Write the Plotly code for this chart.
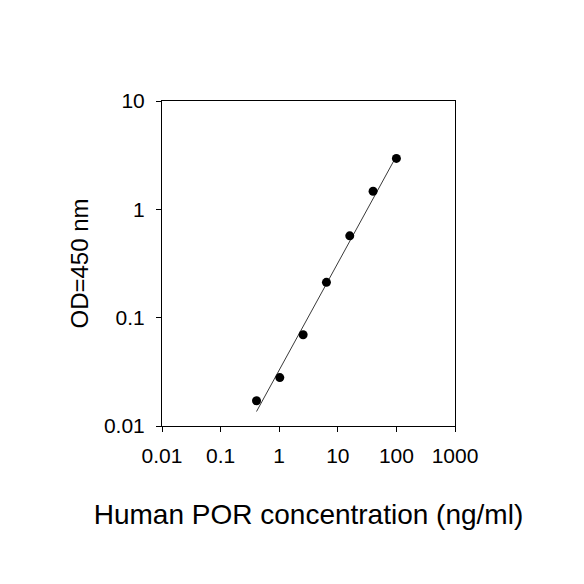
import plotly.graph_objs as go

# standard curve points
conc = [0.41, 1.024, 2.56, 6.4, 16, 40, 100]
od = [0.0171, 0.028, 0.0695, 0.212, 0.569, 1.47, 2.95]

# fitted line end points
fit_conc = [0.41, 100]
fit_od = [0.0136, 3.1]

x_ticks = [0.01, 0.1, 1, 10, 100, 1000]
x_ticktext = ["0.01", "0.1", "1", "10", "100", "1000"]
y_ticks = [0.01, 0.1, 1, 10]
y_ticktext = ["0.01", "0.1", "1", "10"]

font_name = "Arial, Liberation Sans, sans-serif"

trace_fit = go.Scatter(x=fit_conc, y=fit_od, mode='lines',
                       line=dict(color='#3a3a3a', width=1), showlegend=False)
trace_pts = go.Scatter(x=conc, y=od, mode='markers',
                       marker=dict(color='black', size=9), showlegend=False)

# page body has an 8px margin, so the figure is shifted by that much
layout = go.Layout(
    width=584, height=584,
    margin=dict(l=154, r=137, t=93, b=166),
    paper_bgcolor='white', plot_bgcolor='white',
    font=dict(family=font_name, color='black', size=21),
    xaxis=dict(type='log', range=[-2, 3],
               tickmode='array', tickvals=x_ticks, ticktext=x_ticktext,
               ticks='outside', ticklen=5, tickwidth=1, tickcolor='black',
               ticklabelstandoff=6,
               showline=True, linecolor='black', linewidth=1, mirror=True,
               showgrid=False, zeroline=False,
               tickfont=dict(size=21),
               title=dict(text='Human POR concentration (ng/ml)',
                          font=dict(size=28), standoff=38)),
    yaxis=dict(type='log', range=[-2, 1],
               tickmode='array', tickvals=y_ticks, ticktext=y_ticktext,
               ticks='outside', ticklen=5, tickwidth=1, tickcolor='black',
               ticklabelstandoff=7,
               showline=True, linecolor='black', linewidth=1, mirror=True,
               showgrid=False, zeroline=False,
               tickfont=dict(size=21),
               title=dict(text='OD=450 nm', font=dict(size=24), standoff=8)),
)

fig = go.Figure(data=[trace_fit, trace_pts], layout=layout)
fig.write_html("out.html")
